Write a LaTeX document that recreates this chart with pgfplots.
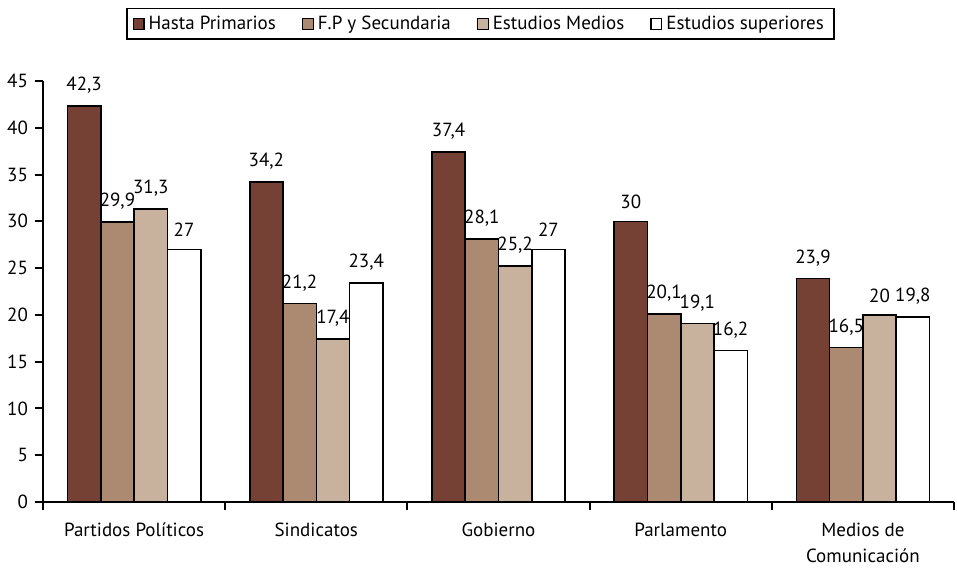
\documentclass[border=0pt]{standalone}
\usepackage{pgfplots}
\pgfplotsset{compat=1.18}
\usepackage{fontspec}
\setmainfont{PT Sans}
\definecolor{c1}{RGB}{116,65,52}
\definecolor{c2}{RGB}{172,138,113}
\definecolor{c3}{RGB}{200,178,158}
\begin{document}
\begin{tikzpicture}
\begin{axis}[
  name=ax,
  scale only axis, width=455.5pt, height=210.5pt,
  ybar=0pt, bar width=16.65pt,
  xmin=-0.5, xmax=4.5, ymin=0, ymax=45,
  axis x line*=bottom, axis y line*=left,
  axis line style={line width=1pt, -},
  tick align=outside, major tick length=4pt, minor tick length=4pt,
  xtick={0,1,2,3,4},
  xticklabels={Partidos Políticos, Sindicatos, Gobierno, Parlamento, {Medios de\\Comunicación}},
  xticklabel style={align=center, font=\fontsize{9.5}{13}\selectfont, yshift=-3pt},
  major x tick style={draw=none},
  minor xtick={-0.5,0.5,1.5,2.5,3.5,4.5},
  minor x tick style={black, line width=1pt},
  ytick={0,5,...,45},
  y tick style={black, line width=1pt},
  yticklabel style={font=\fontsize{9.5}{11}\selectfont},
  /pgf/number format/assume math mode=true,
  /pgf/number format/use comma,
  nodes near coords,
  every node near coord/.append style={font=\fontsize{9.5}{11}\selectfont, black, yshift=2.5pt},
  legend columns=4,
  legend style={at={(0.48,1)}, anchor=south, yshift=20.5pt, draw=black, line width=0.9pt,
    font=\fontsize{9.5}{11}\selectfont, inner ysep=1.5pt,
    /tikz/every even column/.append style={column sep=11pt}},
  legend image code/.code={\draw[#1, draw=black, line width=0.6pt] (0cm,-0.095cm) rectangle (0.19cm,0.095cm);},
  clip=false,
]
\addplot[fill=c1, draw=black, line width=0.8pt] coordinates {(0,42.3) (1,34.2) (2,37.4) (3,30) (4,23.9)};
\addplot[fill=c2, draw=black, line width=0.8pt] coordinates {(0,29.9) (1,21.2) (2,28.1) (3,20.1) (4,16.5)};
\addplot[fill=c3, draw=black, line width=0.8pt] coordinates {(0,31.3) (1,17.4) (2,25.2) (3,19.1) (4,20)};
\addplot[fill=white, draw=black, line width=0.8pt] coordinates {(0,27) (1,23.4) (2,27) (3,16.2) (4,19.8)};
\legend{Hasta Primarios, F.P y Secundaria, Estudios Medios, Estudios superiores}
\end{axis}
\path (ax.south west) ++(-21.5pt,-32.5pt) rectangle ++(478.5pt,283.5pt);
\end{tikzpicture}
\end{document}
